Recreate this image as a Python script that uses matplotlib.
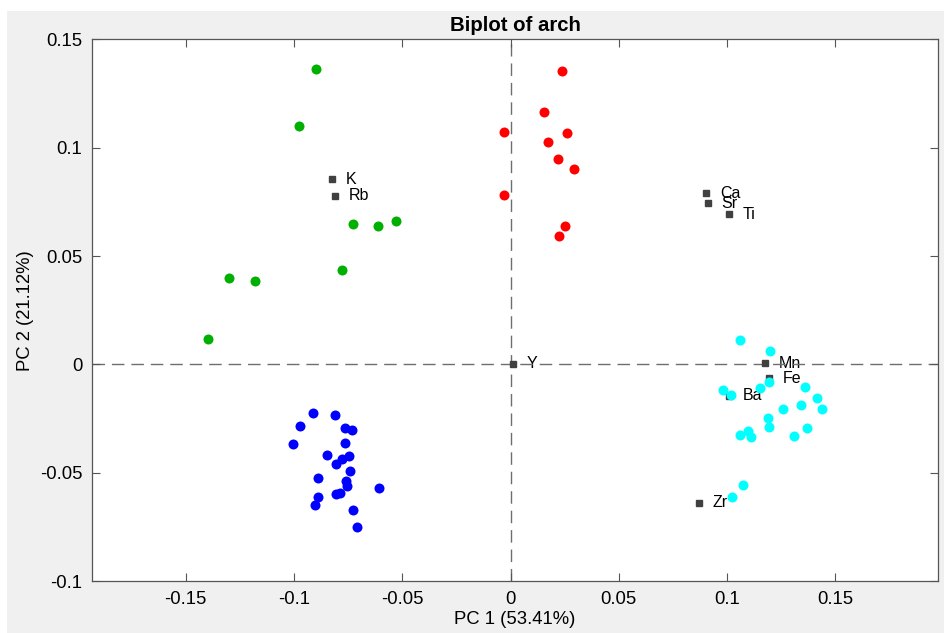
import matplotlib
matplotlib.use("Agg")
import matplotlib.pyplot as plt
from matplotlib.patches import Rectangle

plt.rcParams['font.family'] = ['Liberation Sans', 'DejaVu Sans']

# scores per group (PC1, PC2)
green_x = [-0.0898, -0.0979, -0.0729, -0.0612, -0.0528, -0.0777, -0.1299, -0.1179, -0.1396]
green_y = [0.1366, 0.1102, 0.0647, 0.0640, 0.0662, 0.0435, 0.0400, 0.0386, 0.0119]

red_x = [0.0239, 0.0156, -0.0031, 0.0260, 0.0171, 0.0220, 0.0294, -0.0031, 0.0251, 0.0222]
red_y = [0.1353, 0.1164, 0.1071, 0.1069, 0.1026, 0.0950, 0.0903, 0.0782, 0.0640, 0.0593]

blue_x = [-0.0912, -0.0811, -0.0974, -0.0765, -0.0731, -0.1006, -0.0763, -0.0848, -0.0748, -0.0780, -0.0808,
          -0.0743, -0.0889, -0.0762, -0.0754, -0.0608, -0.0889, -0.0806, -0.0786, -0.0903, -0.0729, -0.0711]
blue_y = [-0.0225, -0.0235, -0.0286, -0.0295, -0.0302, -0.0367, -0.0364, -0.0418, -0.0421, -0.0438, -0.0460,
          -0.0491, -0.0526, -0.0540, -0.0560, -0.0571, -0.0611, -0.0597, -0.0593, -0.0650, -0.0671, -0.0750]

cyan_x = [0.1062, 0.1200, 0.0983, 0.1019, 0.1153, 0.1196, 0.1359, 0.1415, 0.1441, 0.1342,
          0.1259, 0.1190, 0.1194, 0.1371, 0.1308, 0.1060, 0.1096, 0.1111, 0.1074, 0.1025]
cyan_y = [0.0113, 0.0063, -0.0117, -0.0139, -0.0110, -0.0083, -0.0106, -0.0156, -0.0204, -0.0188,
          -0.0207, -0.0248, -0.0287, -0.0295, -0.0330, -0.0324, -0.0306, -0.0335, -0.0557, -0.0611]

# loadings
var_names = ['K', 'Rb', 'Ca', 'Sr', 'Ti', 'Y', 'Mn', 'Fe', 'Ba', 'Zr']
var_x = [-0.0825, -0.0813, 0.0905, 0.0911, 0.1010, 0.0012, 0.1176, 0.1194, 0.1010, 0.0871]
var_y = [0.0855, 0.0778, 0.0790, 0.0744, 0.0693, 0.0003, 0.0006, -0.0063, -0.0144, -0.0639]

xticks = [-0.15, -0.1, -0.05, 0, 0.05, 0.1, 0.15]
xtick_labels = ['-0.15', '-0.1', '-0.05', '0', '0.05', '0.1', '0.15']
yticks = [-0.1, -0.05, 0, 0.05, 0.1, 0.15]
ytick_labels = ['-0.1', '-0.05', '0', '0.05', '0.1', '0.15']

fig = plt.figure(figsize=(9.44, 6.33), dpi=100, facecolor='white')
fig.patches.append(Rectangle((7 / 944, 0), 1, (633 - 11) / 633, transform=fig.transFigure,
                             facecolor='#f0f0f0', edgecolor='none', zorder=-10))
ax = fig.add_axes([0.0975, 0.0821, 0.8962, 0.8555])

ax.axhline(0, color='#6e6e6e', lw=1.0, dashes=(9, 5), zorder=1.5)
ax.axvline(0, color='#6e6e6e', lw=1.0, dashes=(9, 5), zorder=1.5)

ax.plot(var_x, var_y, 's', color='#404040', ms=5, zorder=2)
for n, x, y in zip(var_names, var_x, var_y):
    ax.annotate(n, (x, y), xytext=(10, 0), textcoords='offset points',
                ha='left', va='center', fontsize=11.5, color='black', zorder=1)

ms = 7.2
ax.plot(green_x, green_y, 'o', color='#00b000', ms=ms, mec='none', zorder=3)
ax.plot(red_x, red_y, 'o', color='#ff0000', ms=ms, mec='none', zorder=3)
ax.plot(blue_x, blue_y, 'o', color='#0000ff', ms=ms, mec='none', zorder=3)
ax.plot(cyan_x, cyan_y, 'o', color='#00ffff', ms=ms, mec='none', zorder=3)

ax.set_xlim(-0.1933, 0.1975)
ax.set_ylim(-0.1, 0.15)
ax.set_xticks(xticks)
ax.set_xticklabels(xtick_labels)
ax.set_yticks(yticks)
ax.set_yticklabels(ytick_labels)
ax.tick_params(direction='in', length=6, width=0.8, color='#555555', labelsize=13.3,
               top=True, right=True, pad=7)
for s in ax.spines.values():
    s.set_color('#555555')
    s.set_linewidth(0.9)

ax.set_xlabel('PC 1 (53.41%)', fontsize=13.3, labelpad=2)
ax.set_ylabel('PC 2 (21.12%)', fontsize=13.3, labelpad=4)
ax.set_title('Biplot of arch', fontsize=14.7, fontweight='bold', pad=6)

fig.savefig('out.png', dpi=100, facecolor=fig.get_facecolor())
